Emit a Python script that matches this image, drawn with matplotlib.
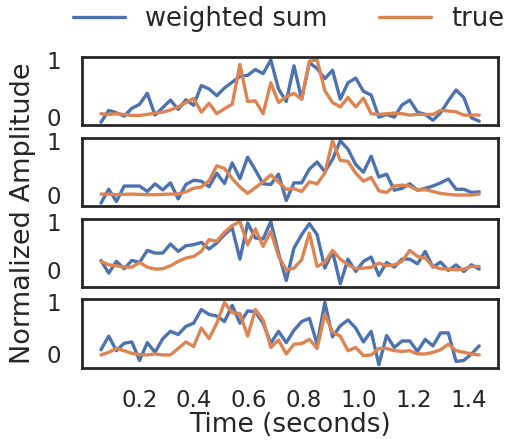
import numpy as np
import matplotlib
matplotlib.use("Agg")
import matplotlib.pyplot as plt
import seaborn as sns

# time axis: 50 evenly spaced frames
t_start, t_stop, n_frames = 0.06, 1.44, 50
time = np.linspace(t_start, t_stop, n_frames)

# panel 1
ws_1 = [-0.089, 0.119, 0.077, 0.018, 0.155, 0.226, 0.417, 0.036, 0.167, 0.298,
        0.137, 0.304, 0.208, 0.554, 0.494, 0.375, 0.512, 0.613, 0.714, 0.732,
        0.833, 0.762, 1.0, 0.494, 0.274, 0.899, 0.315, 0.952, 0.851, 0.673,
        0.821, 0.315, 0.601, 0.685, 0.452, 0.387, 0.0, 0.048, 0.0, 0.214,
        0.298, 0.089, 0.048, -0.054, 0.077, 0.286, 0.476, 0.345, -0.012, -0.071]
true_1 = [0.060, 0.048, 0.060, 0.048, 0.030, 0.030, 0.048, 0.071, 0.089, 0.125,
          0.179, 0.256, 0.327, 0.089, 0.244, 0.060, 0.149, 0.226, 0.923, 0.274,
          0.286, 0.060, 0.601, 0.256, 0.357, 0.417, 0.315, 0.98, 1.0, 0.464,
          0.256, 0.179, 0.345, 0.179, 0.333, 0.060, 0.048, 0.060, 0.071, 0.060,
          0.036, 0.048, 0.048, 0.048, 0.119, 0.107, 0.095, 0.036, 0.036, 0.036]

# panel 2
ws_2 = [-0.155, 0.101, -0.125, 0.161, 0.161, 0.161, 0.060, 0.202, 0.089, 0.220,
        -0.077, 0.190, 0.268, 0.250, 0.149, 0.399, 0.208, 0.589, 0.298, 0.696,
        0.458, 0.202, 0.190, 0.381, -0.107, 0.220, 0.220, 0.476, 0.607, 0.429,
        0.655, 1.0, 0.845, 0.560, 0.417, 0.714, 0.327, 0.381, 0.083, 0.119,
        0.202, 0.083, 0.119, 0.161, 0.220, 0.292, 0.101, 0.101, 0.042, 0.054]
true_2 = [0.012, 0.012, 0.0, 0.006, 0.012, 0.006, 0.0, 0.0, 0.006, 0.012,
          0.012, 0.054, 0.119, 0.143, 0.262, 0.536, 0.488, 0.298, 0.143, 0.024,
          0.131, 0.238, 0.369, 0.232, 0.101, 0.113, 0.060, 0.238, 0.202, 0.399,
          1.0, 0.637, 0.619, 0.399, 0.250, 0.321, 0.071, 0.042, 0.161, 0.179,
          0.161, 0.083, 0.095, 0.060, 0.024, 0.006, -0.006, -0.006, -0.006, 0.012]

# panel 3
ws_3 = [0.194, -0.069, 0.174, 0.021, 0.194, 0.153, 0.403, 0.347, 0.347, 0.535,
        0.382, 0.500, 0.521, 0.569, 0.431, 0.556, 0.729, 0.868, 0.222, 0.972,
        0.660, 0.639, 1.0, 0.347, -0.222, 0.451, 0.729, 0.958, 0.729, 0.035,
        0.382, -0.292, 0.222, -0.035, 0.174, 0.264, -0.118, 0.153, 0.056, 0.222,
        0.222, 0.125, 0.382, 0.056, 0.160, -0.014, 0.104, -0.035, 0.104, 0.014]
true_3 = [0.174, 0.104, 0.083, 0.056, 0.056, 0.153, 0.056, 0.014, 0.021, 0.083,
          0.174, 0.243, 0.278, 0.382, 0.625, 0.590, 0.778, 0.917, 1.0, 0.521,
          0.847, 0.486, 0.799, 0.278, 0.0, 0.035, 0.208, 0.764, 0.069, 0.153,
          0.403, 0.222, 0.104, 0.021, 0.035, 0.049, 0.139, 0.083, 0.104, 0.174,
          0.403, 0.278, 0.243, 0.069, 0.021, 0.014, 0.0, 0.014, 0.069, 0.069]

# panel 4
ws_4 = [0.082, 0.346, 0.063, 0.208, 0.233, -0.126, 0.220, 0.031, 0.296, 0.440,
        0.377, 0.535, 0.597, 0.862, 0.767, 0.736, 0.629, 0.943, 0.597, 0.836,
        0.818, 0.597, 0.208, 0.440, 0.220, 0.459, 0.629, 0.692, 0.189, 1.0,
        0.333, 0.547, 0.660, 0.503, 0.233, 0.440, -0.208, 0.358, 0.126, 0.252,
        0.252, 0.050, 0.283, 0.157, 0.409, 0.409, -0.145, -0.126, 0.0, 0.157]
true_4 = [-0.019, 0.031, 0.107, 0.063, 0.013, -0.013, -0.019, 0.0, -0.019, -0.019,
          0.107, 0.233, 0.145, 0.503, 0.296, 0.597, 1.0, 0.799, 0.786, 0.346,
          0.862, 0.660, 0.126, 0.270, 0.0, 0.189, 0.201, 0.283, 0.107, 0.774,
          0.421, 0.346, 0.063, 0.126, -0.031, -0.019, 0.107, 0.107, 0.063, 0.050,
          0.063, 0.0, 0.0, 0.031, 0.082, 0.189, 0.063, 0.031, 0.0, -0.019]

weighted = [ws_1, ws_2, ws_3, ws_4]
truth = [true_1, true_2, true_3, true_4]
xticks = [0.2, 0.4, 0.6, 0.8, 1.0, 1.2, 1.4]

sns.set_theme(style="white", context="talk")
plt.rcParams['font.family'] = ['DejaVu Sans']

fig, axes = plt.subplots(4, 1, figsize=(5.13, 4.41), dpi=100, sharex=True)
fig.subplots_adjust(left=0.16, right=0.971, top=0.871, bottom=0.166, hspace=0.18)

for ax, ws, tr in zip(axes, weighted, truth):
    ax.plot(time, ws, color="#4C72B0", lw=2.4, label="weighted sum")
    ax.plot(time, tr, color="#DD8452", lw=2.4, label="true")
    ax.set_yticks([0, 1])
    ax.tick_params(labelsize=16.5, pad=6)
    for s in ax.spines.values():
        s.set_linewidth(2.0)
        s.set_color("#262626")

axes[-1].set_xticks(xticks)
axes[-1].set_xlabel("Time (seconds)", fontsize=19, labelpad=0)
fig.text(0.045, 0.517, "Normalized Amplitude", rotation=90, fontsize=19.5,
         ha="center", va="center", color="#262626")

handles, labels = axes[0].get_legend_handles_labels()
fig.legend(handles, labels, loc="center", bbox_to_anchor=(0.563, 0.957), ncol=2,
           frameon=False, fontsize=18.5, handlelength=2.0, columnspacing=2.0)

plt.savefig("out.png", dpi=100)
